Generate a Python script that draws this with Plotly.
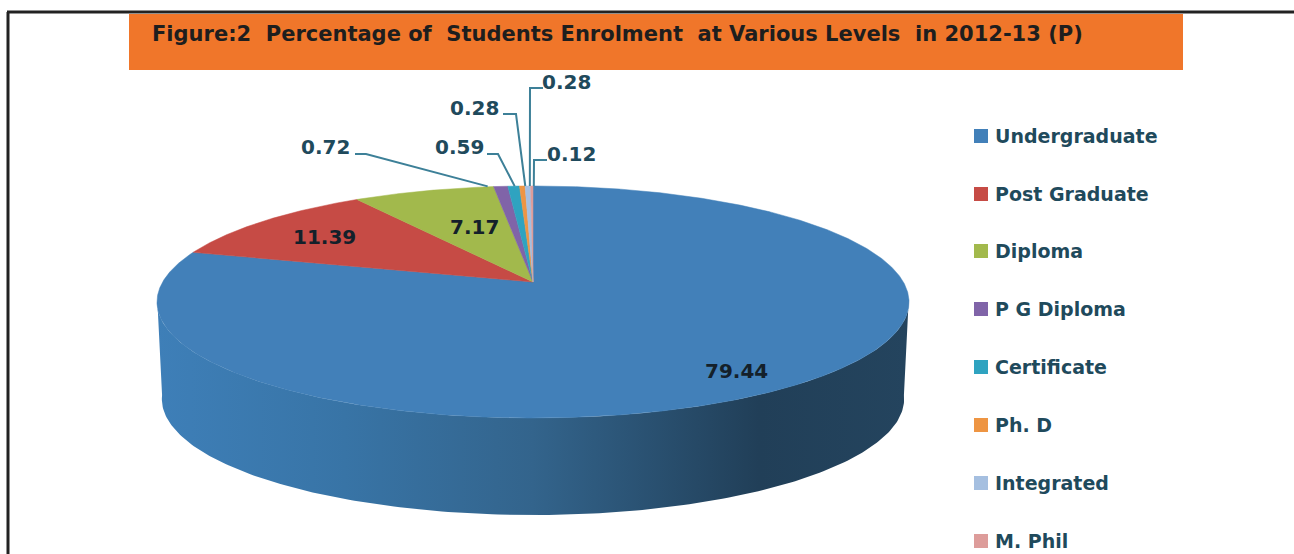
import numpy as np
import plotly.graph_objects as go

# values
levels = ["Undergraduate", "Post Graduate", "Diploma", "P G Diploma", "Certificate", "Ph. D", "Integrated", "M. Phil"]
shares = [79.44, 11.39, 7.17, 0.72, 0.59, 0.28, 0.28, 0.12]
level_colors = ["#4280B9", "#C64B45", "#A2B94C", "#8064A8", "#2FA3C0", "#EE9543", "#A5BFE0", "#DD9C9A"]
title_text = "Figure:2  Percentage of  Students Enrolment  at Various Levels  in 2012-13 (P)"

# pie geometry in page pixels, with a bit of perspective like the excel 3d pie
cx, cy = 533, 282
width_k, height_k, persp = 370.4, 112.6, 0.1724
depth = 97
bottom_scale = 0.987


def rim(theta, scale=1.0, drop=0):
    # theta is degrees clockwise from 12 o'clock
    t = np.radians(theta)
    u, v = np.sin(t), np.cos(t)
    d = 1 + persp * v
    return cx + scale * width_k * u / d, cy + drop - height_k * v / d


angles = np.cumsum([0] + shares) / sum(shares) * 360

fig = go.Figure()

# side wall, one polygon with the left to right shading
side_scale = [[0.0, "#3E7FB8"], [0.25, "#3874A6"], [0.5, "#33648C"], [0.8, "#213F58"], [1.0, "#24445E"]]
a = np.linspace(262, 98, 200)
xt, yt = rim(a)
xb, yb = rim(a[::-1], bottom_scale, depth)
fig.add_trace(go.Scatter(x=np.r_[xt, xb], y=np.r_[yt, yb], mode="lines", fill="toself",
                         fillgradient=dict(type="horizontal", colorscale=side_scale),
                         line=dict(width=0), hoverinfo="skip", showlegend=False))

# top face
for i, name in enumerate(levels):
    a = np.arange(angles[i], angles[i + 1], 0.25)
    a = np.r_[a, angles[i + 1]]
    xs, ys = rim(a)
    fig.add_trace(go.Scatter(x=np.r_[cx, xs, cx], y=np.r_[cy, ys, cy], mode="lines", fill="toself",
                             fillcolor=level_colors[i], line=dict(color=level_colors[i], width=0.5),
                             name=name, hoverinfo="name", showlegend=False))

# leader lines for the small slices: label anchor, elbow, offset at the rim
leaders = {
    3: dict(start=(355, 154), elbow=(366, 154), dx=-13, label=(325, 147)),
    4: dict(start=(487, 154), elbow=(498, 154), dx=1, label=(459, 147)),
    5: dict(start=(503, 114), elbow=(516, 114), dx=3, label=(474, 108)),
    6: dict(start=(543, 88), elbow=(530, 88), dx=2, label=(566, 82)),
    7: dict(start=(547, 160), elbow=(534, 160), dx=2, label=(571, 154)),
}
for i, ld in leaders.items():
    ex, ey = rim((angles[i] + angles[i + 1]) / 2)
    fig.add_trace(go.Scatter(x=[ld["start"][0], ld["elbow"][0], ex + ld["dx"]],
                             y=[ld["start"][1], ld["elbow"][1], ey],
                             mode="lines", line=dict(color="#3D8098", width=2),
                             hoverinfo="skip", showlegend=False))
    fig.add_annotation(x=ld["label"][0], y=ld["label"][1], text="%.2f" % shares[i], showarrow=False,
                       font=dict(family="DejaVu Sans", size=20, color="#1F4A5C", weight="bold"))

# labels on the big slices
big_pos = {0: (736, 371), 1: (324, 237), 2: (474, 227)}
for i, p in big_pos.items():
    fig.add_annotation(x=p[0], y=p[1], text="%.2f" % shares[i], showarrow=False,
                       font=dict(family="DejaVu Sans", size=20, color="#14202A", weight="bold"))

# legend on the right, drawn by hand to get the wide spacing
legend_y = [136, 194, 251, 309, 367, 425, 483, 541]
fig.add_trace(go.Scatter(x=[981] * len(levels), y=legend_y, mode="markers",
                         marker=dict(symbol="square", size=14, color=level_colors),
                         hoverinfo="skip", showlegend=False))
for name, y in zip(levels, legend_y):
    fig.add_annotation(x=993, y=y, text=name, showarrow=False, xanchor="left",
                       font=dict(family="DejaVu Sans", size=19, color="#1F4A5C", weight="bold"))

fig.update_layout(
    width=1294, height=554,
    margin=dict(l=0, r=0, t=0, b=0),
    paper_bgcolor="white", plot_bgcolor="white",
    xaxis=dict(range=[0, 1294], visible=False, fixedrange=True),
    yaxis=dict(range=[554, 0], visible=False, fixedrange=True),
    showlegend=False,
    shapes=[
        # frame, the top line runs off to the right
        dict(type="line", x0=8, x1=8, y0=12, y1=554, line=dict(color="#222222", width=3)),
        dict(type="line", x0=7, x1=1294, y0=12, y1=12, line=dict(color="#222222", width=3)),
        # title band
        dict(type="rect", x0=129, x1=1183, y0=14, y1=70, fillcolor="#F0762A", line=dict(width=0), layer="below"),
    ],
    annotations=list(fig.layout.annotations) + [
        dict(x=150, y=34, text=title_text, showarrow=False, xanchor="left",
             font=dict(family="DejaVu Sans", size=21, color="#1E1E1E", weight="bold")),
    ],
)

fig.write_html("out.html", config={"displayModeBar": False},
               post_script="document.body.style.margin='0';document.body.style.overflow='hidden';")
